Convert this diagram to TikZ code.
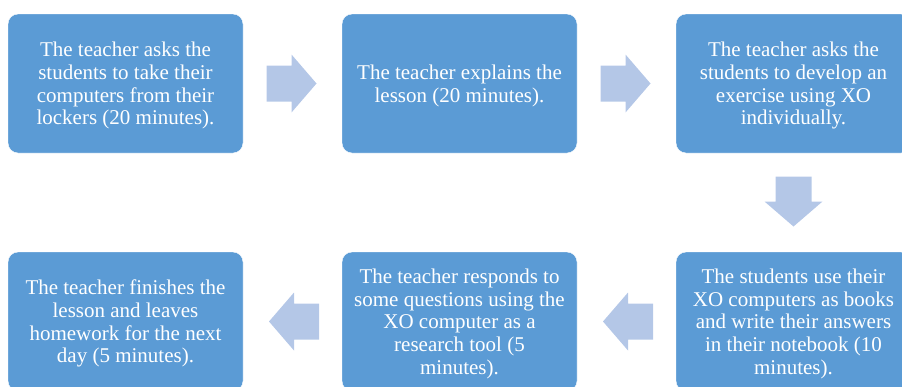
\documentclass[tikz,border=0pt]{standalone}
\usepackage{fontspec}
\setmainfont{Liberation Serif}
\usetikzlibrary{calc}

\begin{document}
\begin{tikzpicture}[x=1pt,y=-1pt]
    % Colores
    \colorlet{boxcolor}{rgb,255:red,91;green,155;blue,213}
    \colorlet{arrowcolor}{rgb,255:red,180;green,199;blue,231}

    \tikzset{
        stepbox/.style={draw=white,fill=boxcolor,rounded corners=10pt,
            minimum width=235pt,minimum height=139pt,text=white,align=center,
            text depth=-1.5pt,font=\fontsize{21}{22.7}\selectfont},
        blockarrow/.pic={
            \fill[arrowcolor] (-25,-18) -- (0,-18) -- (0,-29) -- (25,0)
                -- (0,29) -- (0,18) -- (-25,18) -- cycle;
        }
    }

    % Marco
    \useasboundingbox (0,0) rectangle (902,386);
    \clip (0,0) rectangle (902,386);

    % Fila superior
    \node[stepbox] (ask) at (125.5,83.5) {The teacher asks the\\students to take their\\computers from their\\lockers (20 minutes).};
    \node[stepbox] (explain) at (459.5,83.5) {The teacher explains the\\lesson (20 minutes).};
    \node[stepbox] (exercise) at (793.5,83.5) {The teacher asks the\\students to develop an\\exercise using XO\\individually.};

    % Fila inferior
    \node[stepbox] (books) at (793.5,321.5) {The students use their\\XO computers as books\\and write their answers\\in their notebook (10\\minutes).};
    \node[stepbox] (respond) at (459.5,321.5) {The teacher responds to\\some questions using the\\XO computer as a\\research tool (5\\minutes).};
    \node[stepbox] (finish) at (125.5,321.5) {The teacher finishes the\\lesson and leaves\\homework for the next\\day (5 minutes).};

    % Flechas
    \pic at ($(ask.east)!0.5!(explain.west)+(-1,0)$) {blockarrow};
    \pic at ($(explain.east)!0.5!(exercise.west)+(-1,0)$) {blockarrow};
    \pic[rotate=-90] at ($(exercise.south)!0.5!(books.north)+(0,-1)$) {blockarrow};
    \pic[rotate=180] at ($(books.west)!0.5!(respond.east)+(1.5,0)$) {blockarrow};
    \pic[rotate=180] at ($(respond.west)!0.5!(finish.east)+(1.5,0)$) {blockarrow};

\end{tikzpicture}
\end{document}
